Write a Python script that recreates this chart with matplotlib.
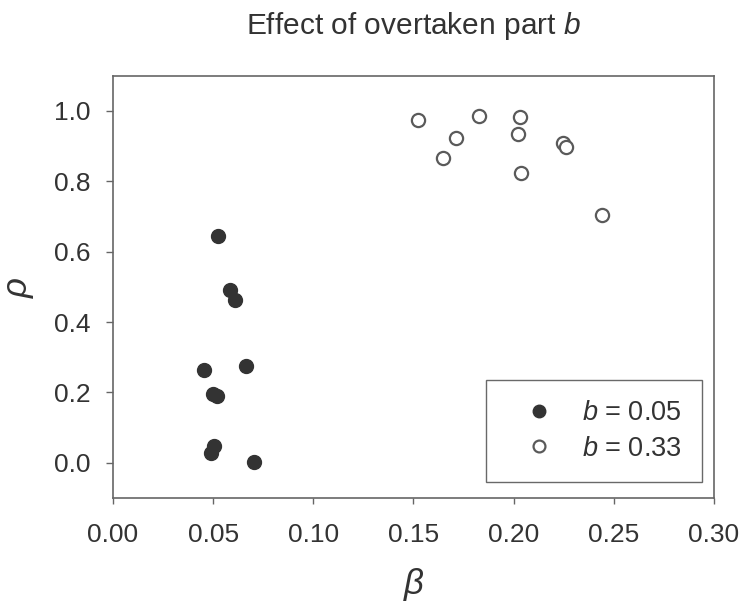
import matplotlib
matplotlib.use("Agg")
import matplotlib.pyplot as plt

plt.rcParams["font.family"] = ["Liberation Sans", "DejaVu Sans"]
plt.rcParams["mathtext.fontset"] = "custom"
plt.rcParams["mathtext.rm"] = "Liberation Sans"
plt.rcParams["mathtext.it"] = "Liberation Sans:italic"

TEXT_COLOR = "#333333"
SPINE_COLOR = "#666666"

# b = 0.05 (filled)
beta_05 = [0.0523, 0.0582, 0.0607, 0.0455, 0.0665, 0.0498, 0.0518, 0.0505, 0.0488, 0.0705]
rho_05 = [0.644, 0.492, 0.462, 0.263, 0.276, 0.195, 0.189, 0.049, 0.027, 0.001]

# b = 0.33 (open)
beta_33 = [0.1523, 0.1825, 0.2033, 0.2020, 0.1712, 0.1645, 0.2245, 0.2262, 0.2035, 0.2442]
rho_33 = [0.973, 0.984, 0.982, 0.935, 0.922, 0.865, 0.909, 0.898, 0.824, 0.704]

x_ticks = [0.00, 0.05, 0.10, 0.15, 0.20, 0.25, 0.30]
y_ticks = [0.0, 0.2, 0.4, 0.6, 0.8, 1.0]

fig, ax = plt.subplots(figsize=(7.43, 6.10), dpi=100)
fig.subplots_adjust(left=0.152, right=0.961, bottom=0.1836, top=0.876)

ax.plot(beta_05, rho_05, "o", ms=10, color="#333333", mec="#333333",
        label=r"$\it{b}$ = 0.05")
ax.plot(beta_33, rho_33, "o", ms=9.5, mfc="white", mec="#5a5a5a", mew=1.6,
        label=r"$\it{b}$ = 0.33")

ax.set_xlim(0, 0.3)
ax.set_ylim(-0.1, 1.1)
ax.set_xticks(x_ticks)
ax.set_yticks(y_ticks)
ax.set_xticklabels([f"{v:.2f}" for v in x_ticks])
ax.set_yticklabels([f"{v:.1f}" for v in y_ticks])

for s in ax.spines.values():
    s.set_color(SPINE_COLOR)
    s.set_linewidth(1.2)
ax.tick_params(axis="x", direction="out", length=4, width=1, color=SPINE_COLOR,
               labelsize=19, labelcolor=TEXT_COLOR, pad=14)
ax.tick_params(axis="y", direction="out", length=5, width=1, color=SPINE_COLOR,
               labelsize=19, labelcolor=TEXT_COLOR, pad=11)

ax.set_title(r"Effect of overtaken part $\it{b}$", fontsize=21.5, color=TEXT_COLOR, pad=30)
ax.set_xlabel(r"$\beta$", fontsize=25, color=TEXT_COLOR, labelpad=14)
ax.set_ylabel(r"$\rho$", fontsize=25, color=TEXT_COLOR)
ax.yaxis.set_label_coords(-0.128, 0.5)

leg = ax.legend(loc="lower right", bbox_to_anchor=(0.98, 0.038), fontsize=19.5,
                frameon=True, fancybox=False, borderpad=0.75, handlelength=2.4,
                handletextpad=0.4, labelspacing=0.35, borderaxespad=0,
                markerscale=0.9)
leg.get_frame().set_edgecolor("#444444")
leg.get_frame().set_linewidth(1.0)
for t in leg.get_texts():
    t.set_color(TEXT_COLOR)

fig.savefig("out.png", dpi=100)
